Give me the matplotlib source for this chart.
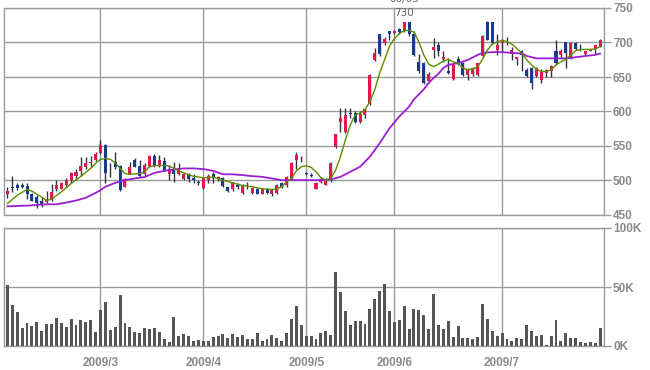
import matplotlib
matplotlib.use('Agg')
import matplotlib.pyplot as plt
import numpy as np

# daily prices, 2009/2 - 2009/7
opens = [480, 490, 494, 494, 492, 481, 476, 470, 469, 473, 487, 488, 494, 501, 507, 514, 520, 525, 530,
         540, 551, 517, 527, 521, 491, 510, 530, 521, 509, 521, 535, 521, 528, 510, 517, 510, 502, 510, 503, 498,
         489, 501, 510, 502, 504, 490, 487, 493, 482, 491, 482, 488, 481, 488, 480, 482, 496, 493, 502, 530, 533,
         511, 508, 488, 498, 494, 500, 549, 585, 571, 598, 598, 585, 595, 611, 675, 712, 699, 716,
         714, 720, 717, 730, 713, 672, 670, 644, 689, 697, 676, 658, 647, 676, 670, 653, 655, 653, 680, 730, 729, 689,
         699, 703, 684, 676, 687, 660, 663, 652, 646, 656, 658, 687, 682, 700, 677, 699, 691, 683, 688, 690, 694]
highs = [491, 506, 496, 497, 497, 482, 479, 476, 485, 495, 500, 498, 503, 513, 517, 534, 534, 535, 542,
         558, 553, 525, 542, 523, 503, 527, 532, 530, 525, 537, 539, 537, 534, 522, 527, 525, 511, 511, 510, 500,
         505, 509, 512, 507, 505, 491, 498, 496, 495, 498, 490, 489, 489, 489, 488, 495, 498, 506, 527, 542, 535,
         512, 511, 498, 505, 503, 527, 568, 605, 605, 605, 600, 600, 605, 654, 692, 713, 708, 716,
         718, 721, 730, 730, 716, 684, 672, 657, 706, 700, 688, 677, 670, 681, 672, 663, 665, 671, 711, 731, 730, 713,
         705, 708, 693, 679, 689, 663, 665, 665, 661, 661, 667, 703, 690, 701, 701, 700, 698, 688, 691, 697, 705]
lows = [475, 484, 486, 489, 473, 470, 460, 462, 468, 471, 485, 487, 491, 497, 500, 507, 517, 520, 528,
        539, 496, 505, 517, 485, 490, 509, 519, 505, 507, 520, 520, 520, 514, 500, 498, 508, 500, 498, 496, 493,
        487, 496, 497, 499, 491, 484, 485, 488, 481, 488, 481, 480, 480, 481, 478, 481, 489, 491, 500, 517, 527,
        508, 505, 487, 496, 493, 498, 547, 571, 569, 591, 583, 583, 590, 610, 673, 681, 697, 703,
        712, 713, 715, 710, 681, 656, 640, 642, 677, 680, 672, 655, 646, 667, 652, 646, 652, 652, 679, 703, 698, 682,
        686, 696, 675, 668, 659, 650, 633, 650, 641, 650, 650, 667, 677, 663, 676, 689, 688, 682, 687, 683, 693]
closes = [485, 489, 489, 491, 480, 471, 467, 464, 473, 483, 493, 496, 501, 511, 513, 521, 526, 527, 538,
          551, 511, 516, 520, 486, 502, 520, 520, 507, 522, 535, 521, 529, 515, 517, 509, 518, 510, 502, 501, 496,
          504, 507, 503, 505, 492, 485, 497, 491, 493, 490, 489, 481, 488, 482, 487, 494, 491, 505, 526, 537, 532,
          509, 507, 497, 502, 502, 526, 568, 590, 595, 597, 585, 596, 604, 653, 685, 683, 705, 713,
          717, 715, 730, 713, 682, 658, 642, 655, 694, 688, 679, 656, 668, 670, 653, 661, 663, 670, 710, 704, 699, 696,
          704, 704, 689, 679, 682, 652, 642, 663, 659, 660, 666, 670, 688, 685, 700, 690, 689, 687, 690, 696, 704]

# volume, thousands of shares
volume = [51.7, 34.7, 28.8, 15.5, 19.5, 17, 20.3, 13, 18.6, 18.6, 23.7, 19.5, 16.1, 22.9, 17.8, 22, 20.3, 22, 11.9,
          30.5, 37.3, 13.6, 16.1, 43.2, 19.5, 16.1, 11.9, 11, 15.3, 14.4, 15.3, 11.9, 5.9, 3.4, 24.6, 8.5, 10.2, 8.5, 4.2, 5.1,
          4.0, 4.0, 7.4, 8.3, 10.0, 6.6, 10.0, 7.4, 9.1, 5.7, 5.7, 10.9, 4.0, 5.7, 9.1, 6.6, 4.0, 10.9, 22.9, 34, 17.7,
          8.3, 8.3, 5.7, 10.9, 12.6, 9.1, 63.1, 46, 29.7, 17.7, 21.1, 21.1, 18.6, 31.4, 40, 46.9, 52.9, 29.7,
          20.3, 22, 33.9, 14.4, 31.4, 30.5, 26.3, 14.4, 44.1, 17.8, 14.4, 21.2, 7.6, 17, 6.5, 6.8, 5.9, 7.6, 35.6, 22.9, 12.7, 8.5,
          11, 5.9, 4.2, 6.8, 5.9, 17.8, 12.7, 8.5, 9.3, 0.8, 8.5, 22, 4.2, 11, 6.8, 6.8, 3.4, 2.5, 3.4, 2.5, 15.3]

# moving averages (bar index, price)
ma_short_idx = [0, 2, 4, 5, 7, 8, 9, 11, 13, 15, 17, 18, 19, 20, 21, 22, 23, 24, 25, 27, 28, 29, 30, 32, 33, 34, 36, 38,
                40, 42, 44, 46, 48, 50, 52, 54, 55, 56, 57, 58, 59, 60, 61, 62, 63, 64, 65, 66, 67, 68, 69, 70, 71, 72,
                73, 74, 75, 76, 77, 78, 79, 80, 81, 82, 83, 84, 85, 86, 87, 88, 89, 90, 91, 92, 93, 94, 95, 96, 97, 98,
                99, 100, 101, 102, 103, 104, 105, 106, 107, 108, 109, 110, 111, 112, 113, 114, 115, 116, 117, 118, 119,
                120, 121]
ma_short_val = [466.5, 478.6, 487, 484.5, 476, 471, 473, 483.5, 495.6, 506, 517.5, 525, 530.6, 532, 530.6, 525.7, 517.5,
                510, 509, 510, 512.6, 520, 521.4, 522, 521, 517.5, 511, 506, 504, 505, 500.5, 496.6, 492.7, 491, 488,
                487, 488, 491, 498, 503, 514, 520, 521.4, 519, 512.6, 504.4, 500.5, 503, 515, 534.5, 558.7, 580.6, 595,
                597.6, 602.4, 614.6, 631.5, 655.8, 675, 694.6, 705.8, 712.6, 717.5, 717.5, 715, 701, 682, 668.6, 665,
                668.6, 673, 675.7, 672, 670, 663, 660.5, 661.4, 665, 675.7, 689, 697.6, 701, 703.3, 701, 697.6, 691.4,
                685, 674.8, 667.6, 661.4, 658, 658, 660.5, 667.6, 672, 675.7, 682, 688, 690, 690, 690, 690.5, 694]
ma_long_idx = [0, 4, 8, 10, 12, 14, 16, 18, 19, 20, 22, 24, 26, 28, 30, 32, 34, 36, 38, 40, 42, 44, 46, 48, 50, 52, 54,
               56, 58, 60, 62, 64, 66, 68, 70, 72, 74, 76, 78, 80, 82, 83, 84, 85, 86, 87, 88, 89, 90, 92, 94, 96, 97,
               99, 101, 103, 105, 106, 108, 110, 112, 114, 116, 118, 120, 121]
ma_long_val = [462.6, 463.6, 465.5, 465.5, 468, 471, 475, 482, 486, 491, 496.6, 500.5, 503, 505, 511, 514, 516, 517.5,
               517.5, 516.5, 514, 509, 509, 507.8, 506.3, 505.3, 503, 500.5, 500.5, 500.5, 500.5, 500.5, 501.5, 505.3,
               512.6, 520, 534.5, 554, 575.7, 592.7, 607, 617.6, 624.8, 632, 641.5, 648.6, 654.8, 663, 667.6, 670,
               674.8, 682, 685, 686, 686, 685, 684, 680.5, 677, 677, 677, 677, 678.6, 680.5, 682, 684]

month_starts = [19, 40, 61, 79, 101]
month_labels = ['2009/3', '2009/4', '2009/5', '2009/6', '2009/7']
peak_idx = 81
peak_date = '06/03'

RED = '#e2174d'
BLUE = '#173b8e'
GRID = '#9a9a9a'
LABEL = '#8a8a8a'
FONT = 'Liberation Sans'

x = np.arange(len(closes))
o = np.array(opens)
c = np.array(closes)

fig = plt.figure(figsize=(6.5, 3.7), dpi=100)
ax1 = fig.add_axes([4/650, 1 - 215/370, 600/650, 207/370])
ax2 = fig.add_axes([4/650, 1 - 346/370, 600/650, 118/370])

colors = [RED if cc > oo else BLUE for oo, cc in zip(o, c)]
bottoms = np.minimum(o, c)
heights = np.maximum(np.abs(c - o), 0.9)

ax1.vlines(x, lows, highs, color='#333344', lw=1, zorder=3)
ax1.bar(x, heights, bottom=bottoms, width=0.62, color=colors, zorder=4)
ax1.plot(ma_long_idx, ma_long_val, color='#9a1fd0', lw=1.3, zorder=5)
ax1.plot(ma_short_idx, ma_short_val, color='#5f8c00', lw=1.0, zorder=5)

ax1.annotate('730', xy=(peak_idx, 730), xytext=(0, 3), textcoords='offset points',
             ha='center', va='bottom', fontsize=7.5, color='#666666', annotation_clip=False)
ax1.annotate(peak_date, xy=(peak_idx, 730), xytext=(0, 12.5), textcoords='offset points',
             ha='center', va='bottom', fontsize=7.5, color='#666666', annotation_clip=False)

ax2.bar(x, volume, width=0.6, color='#565656', zorder=3)

for ax in (ax1, ax2):
    ax.set_xlim(-0.7, 121.8)
    ax.set_xticks(month_starts)
    ax.grid(True, color=GRID, lw=1, zorder=0)
    ax.yaxis.tick_right()
    ax.tick_params(axis='y', direction='out', length=5, width=1, color=GRID,
                   labelcolor=LABEL, labelsize=8.5, pad=1.5)
    ax.tick_params(axis='x', length=0, labelcolor=LABEL, labelsize=8.5)
    for s in ax.spines.values():
        s.set_color(GRID)
        s.set_linewidth(1)

ax1.set_ylim(450, 750)
ax1.set_yticks(range(450, 751, 50))
ax1.set_xticklabels([])

ax2.set_ylim(0, 100)
ax2.set_yticks([0, 50, 100])
ax2.set_yticklabels(['0K', '50K', '100K'])
ax2.set_xticklabels(month_labels)
ax2.tick_params(axis='x', pad=8)

for ax in (ax1, ax2):
    for lab in ax.get_yticklabels() + ax.get_xticklabels():
        lab.set_fontfamily(FONT)
        lab.set_fontweight('bold')

fig.savefig('out.png', dpi=100)
